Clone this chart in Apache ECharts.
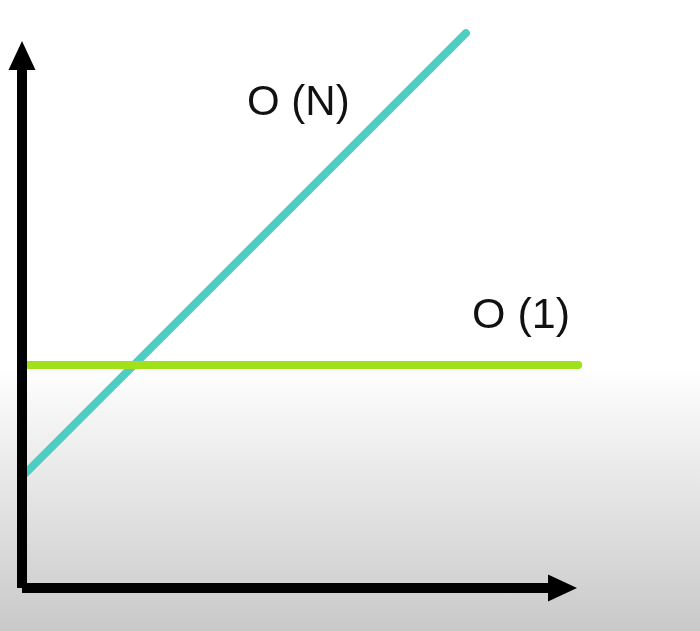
<!DOCTYPE html>
<html>
<head>
<meta charset="utf-8">
<style>
  html, body { margin: 0; padding: 0; }
  body { width: 700px; height: 631px; background: linear-gradient(to bottom, #ffffff 0px, #ffffff 365px, #c9c9c9 631px); }
  #chart { width: 700px; height: 631px; }
</style>
<script src="https://cdn.jsdelivr.net/npm/echarts@6/dist/echarts.min.js"></script>
</head>
<body>
<div id="chart"></div>
<script>
// Data (in arbitrary axis units, 0..100 on each drawn axis)
const seriesNames = ['O (N)', 'O (1)'];
const linearX = [0, 82.2];
const linearY = [20.9, 104.2];
const constantX = [0, 103];
const constantY = [41.9, 41.9];

const chart = echarts.init(document.getElementById('chart'), null, { renderer: 'canvas' });

function pairs(xs, ys) { return xs.map((x, i) => [x, ys[i]]); }

const hiddenParts = {
  splitLine: { show: false },
  axisTick: { show: false },
  axisLabel: { show: false }
};

function drawnAxis() {
  return Object.assign({
    type: 'value', min: 0, max: 100, z: 5, gridIndex: 0,
    axisLine: {
      show: true,
      symbol: ['none', 'triangle'],
      symbolSize: [27, 29],
      lineStyle: { color: '#000000', width: 10, cap: 'butt' }
    }
  }, hiddenParts);
}

chart.setOption({
  backgroundColor: 'transparent',
  animation: false,
  grid: [
    { left: 22, right: 137.5, top: 55.5, bottom: 43 },
    { left: 22, right: 121.8, top: 55.5, bottom: 43 }
  ],
  xAxis: [
    drawnAxis(),
    Object.assign({ type: 'value', min: 0, max: 103, gridIndex: 1, axisLine: { show: false } }, hiddenParts)
  ],
  yAxis: [
    drawnAxis(),
    Object.assign({ type: 'value', min: 0, max: 100, gridIndex: 1, axisLine: { show: false } }, hiddenParts)
  ],
  series: [
    {
      name: seriesNames[0],
      type: 'line',
      xAxisIndex: 1, yAxisIndex: 1,
      data: pairs(linearX, linearY),
      symbol: 'none',
      clip: false,
      lineStyle: { color: '#4ecdc2', width: 8, cap: 'round' }
    },
    {
      name: seriesNames[1],
      type: 'line',
      xAxisIndex: 1, yAxisIndex: 1,
      data: pairs(constantX, constantY),
      symbol: 'none',
      clip: false,
      lineStyle: { color: '#a0e11c', width: 8, cap: 'round' }
    }
  ],
  graphic: [
    {
      type: 'text', left: 247, top: 82,
      style: { text: seriesNames[0], font: '42px "Liberation Sans", Arial, sans-serif', fill: '#111111' }
    },
    {
      type: 'text', left: 472, top: 295,
      style: { text: seriesNames[1], font: '43px "Liberation Sans", Arial, sans-serif', fill: '#111111' }
    }
  ]
});
</script>
</body>
</html>
